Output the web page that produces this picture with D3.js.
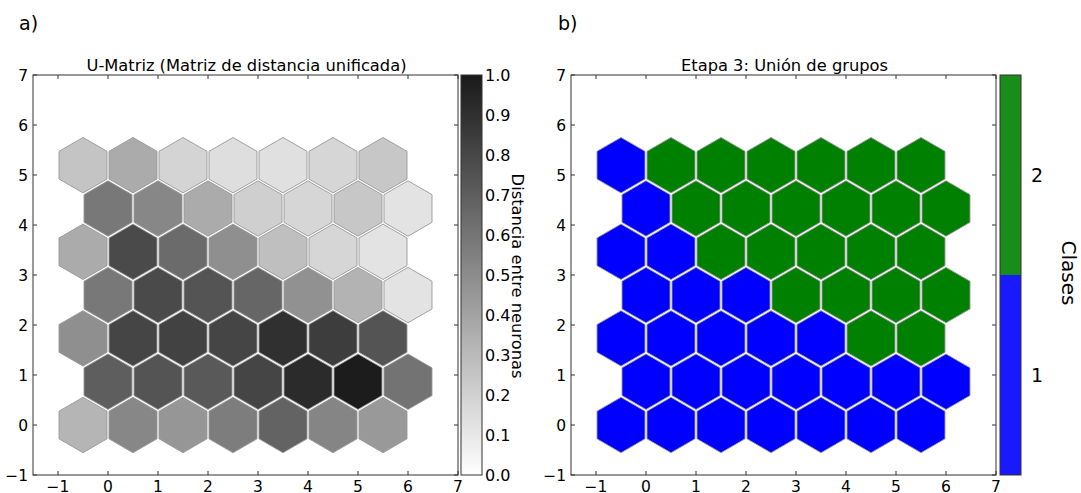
<!DOCTYPE html>
<html>
<head>
<meta charset="utf-8">
<script src="https://cdn.jsdelivr.net/npm/d3@7"></script>
<style>
  html, body { margin: 0; padding: 0; background: #fff; }
  svg { display: block; font-family: "DejaVu Sans", sans-serif; }
</style>
</head>
<body>
<svg id="fig" width="1081" height="493"></svg>
<script>
// Hexagonal SOM grid: 7 rows x 7 columns, row 0 at the bottom.
const nRows = 7;
const nCols = 7;

// U-matrix distances per neuron (row 0 = bottom row)
const uRow0 = [0.29, 0.47, 0.41, 0.51, 0.61, 0.48, 0.40];
const uRow1 = [0.63, 0.67, 0.65, 0.73, 0.83, 0.89, 0.55];
const uRow2 = [0.44, 0.73, 0.74, 0.73, 0.81, 0.76, 0.67];
const uRow3 = [0.53, 0.71, 0.67, 0.60, 0.43, 0.30, 0.11];
const uRow4 = [0.33, 0.71, 0.58, 0.44, 0.25, 0.16, 0.11];
const uRow5 = [0.53, 0.47, 0.33, 0.19, 0.16, 0.22, 0.11];
const uRow6 = [0.23, 0.33, 0.17, 0.13, 0.12, 0.16, 0.22];
const uMatrix = [uRow0, uRow1, uRow2, uRow3, uRow4, uRow5, uRow6];

// Cluster label per neuron after group merging (row 0 = bottom row)
const cRow0 = [1, 1, 1, 1, 1, 1, 1];
const cRow1 = [1, 1, 1, 1, 1, 1, 1];
const cRow2 = [1, 1, 1, 1, 1, 2, 2];
const cRow3 = [1, 1, 1, 2, 2, 2, 2];
const cRow4 = [1, 1, 2, 2, 2, 2, 2];
const cRow5 = [1, 2, 2, 2, 2, 2, 2];
const cRow6 = [1, 2, 2, 2, 2, 2, 2];
const clusters = [cRow0, cRow1, cRow2, cRow3, cRow4, cRow5, cRow6];

const axisTicks = [-1, 0, 1, 2, 3, 4, 5, 6, 7];
const cbarTicks = [0.0, 0.1, 0.2, 0.3, 0.4, 0.5, 0.6, 0.7, 0.8, 0.9, 1.0];
const classTicks = [1, 2];
const classNames = ["1", "2"];
const classColors = ["#0000ff", "#008000"];

const svg = d3.select("#fig");

// Cells with their hex-grid centres
function cells(valuesByRow) {
  const out = [];
  for (let r = 0; r < nRows; r++) {
    for (let c = 0; c < nCols; c++) {
      out.push({
        x: c - (r % 2 === 0 ? 0.5 : 0),
        y: r * Math.sqrt(3) / 2,
        v: valuesByRow[r][c]
      });
    }
  }
  return out;
}

// Pointy-top hexagon path in data coordinates, slightly shrunk to leave a gap
const hexR = 0.96 / Math.sqrt(3);
function hexPath(d, xs, ys) {
  const pts = d3.range(6).map(k => {
    const a = Math.PI / 2 + k * Math.PI / 3;
    return [xs(d.x + hexR * Math.cos(a)), ys(d.y + hexR * Math.sin(a))];
  });
  return "M" + pts.map(p => p.join(",")).join("L") + "Z";
}

const plotTop = 75, plotH = 400, plotW = 425;
const ys = d3.scaleLinear().domain([-1, 7]).range([plotTop + plotH, plotTop]);
const fmtTick = t => d3.format("")(t).replace("-", "\u2212");

function drawAxes(g, left, xs) {
  const tickLen = 4;
  g.append("rect").attr("x", left).attr("y", plotTop).attr("width", plotW).attr("height", plotH)
    .attr("fill", "none").attr("stroke", "#333").attr("stroke-width", 1);
  axisTicks.forEach(t => {
    const px = xs(t);
    g.append("line").attr("x1", px).attr("x2", px).attr("y1", plotTop + plotH).attr("y2", plotTop + plotH - tickLen)
      .attr("stroke", "#333");
    g.append("line").attr("x1", px).attr("x2", px).attr("y1", plotTop).attr("y2", plotTop + tickLen)
      .attr("stroke", "#333");
    g.append("text").attr("x", px).attr("y", plotTop + plotH + 16.5).attr("text-anchor", "middle")
      .attr("font-size", 15.5).attr("fill", "#000").text(fmtTick(t));
  });
  axisTicks.forEach(t => {
    const py = ys(t);
    g.append("line").attr("x1", left).attr("x2", left + tickLen).attr("y1", py).attr("y2", py)
      .attr("stroke", "#333");
    g.append("line").attr("x1", left + plotW).attr("x2", left + plotW - tickLen).attr("y1", py).attr("y2", py)
      .attr("stroke", "#333");
    g.append("text").attr("x", left - 5).attr("y", py + 5.5).attr("text-anchor", "end")
      .attr("font-size", 15.5).attr("fill", "#000").text(fmtTick(t));
  });
}

// ---------- Panel a: U-matrix ----------
{
  const left = 33;
  const xs = d3.scaleLinear().domain([-1.5, 7]).range([left, left + plotW]);
  const grey = d3.scaleLinear().domain([0, 1]).range(["#ffffff", "#000000"]);
  const g = svg.append("g");

  g.selectAll("path.hex").data(cells(uMatrix)).join("path")
    .attr("class", "hex")
    .attr("d", d => hexPath(d, xs, ys))
    .attr("fill", d => grey(d.v))
    .attr("stroke", "#999").attr("stroke-width", 0.9);

  drawAxes(g, left, xs);

  g.append("text").attr("x", left + plotW / 2 + 1).attr("y", 71).attr("text-anchor", "middle")
    .attr("font-size", 16.3).text("U-Matriz (Matriz de distancia unificada)");
  g.append("text").attr("x", 19).attr("y", 30).attr("font-size", 19).text("a)");

  // colour bar
  const cbX = 461, cbW = 21;
  const cs = d3.scaleLinear().domain([0, 1]).range([plotTop + plotH, plotTop]);
  const defs = svg.append("defs");
  const grad = defs.append("linearGradient").attr("id", "greyGrad")
    .attr("x1", 0).attr("y1", 1).attr("x2", 0).attr("y2", 0);
  grad.append("stop").attr("offset", 0).attr("stop-color", grey(0));
  grad.append("stop").attr("offset", 1).attr("stop-color", grey(1));
  g.append("rect").attr("x", cbX).attr("y", plotTop).attr("width", cbW).attr("height", plotH)
    .attr("fill", "url(#greyGrad)").attr("fill-opacity", 0.9);
  g.append("rect").attr("x", cbX).attr("y", plotTop).attr("width", cbW).attr("height", plotH)
    .attr("fill", "none").attr("stroke", "#333");
  cbarTicks.forEach(t => {
    g.append("text").attr("x", cbX + cbW + 3).attr("y", cs(t) + 6).attr("font-size", 16)
      .text(d3.format(".1f")(t));
  });
  g.append("text")
    .attr("transform", `translate(${512},${plotTop + plotH / 2 + 1}) rotate(90)`)
    .attr("text-anchor", "middle").attr("font-size", 16.3)
    .text("Distancia entre neuronas");
}

// ---------- Panel b: merged groups ----------
{
  const left = 571;
  const xs = d3.scaleLinear().domain([-1.5, 7]).range([left, left + plotW]);
  const color = d3.scaleOrdinal().domain([1, 2]).range(classColors);
  const g = svg.append("g");

  g.selectAll("path.hex").data(cells(clusters)).join("path")
    .attr("class", "hex")
    .attr("d", d => hexPath(d, xs, ys))
    .attr("fill", d => color(d.v))
    .attr("stroke", "#999").attr("stroke-width", 0.9);

  drawAxes(g, left, xs);

  g.append("text").attr("x", left + plotW / 2 + 1).attr("y", 71).attr("text-anchor", "middle")
    .attr("font-size", 16.3).text("Etapa 3: Unión de grupos");
  g.append("text").attr("x", 558).attr("y", 30).attr("font-size", 19).text("b)");

  // discrete colour bar
  const cbX = 1000, cbW = 21;
  const cs = d3.scaleLinear().domain([0.5, 2.5]).range([plotTop + plotH, plotTop]);
  classTicks.forEach((k, i) => {
    g.append("rect").attr("x", cbX).attr("y", cs(k + 0.5)).attr("width", cbW)
      .attr("height", cs(k - 0.5) - cs(k + 0.5))
      .attr("fill", classColors[i]).attr("fill-opacity", 0.9);
    g.append("text").attr("x", cbX + cbW + 10).attr("y", cs(k) + 7).attr("font-size", 19)
      .text(classNames[i]);
  });
  g.append("rect").attr("x", cbX).attr("y", plotTop).attr("width", cbW).attr("height", plotH)
    .attr("fill", "none").attr("stroke", "#333");
  g.append("text")
    .attr("transform", `translate(${1062},${plotTop + plotH / 2 - 2}) rotate(90)`)
    .attr("text-anchor", "middle").attr("font-size", 20)
    .text("Clases");
}
</script>
</body>
</html>
